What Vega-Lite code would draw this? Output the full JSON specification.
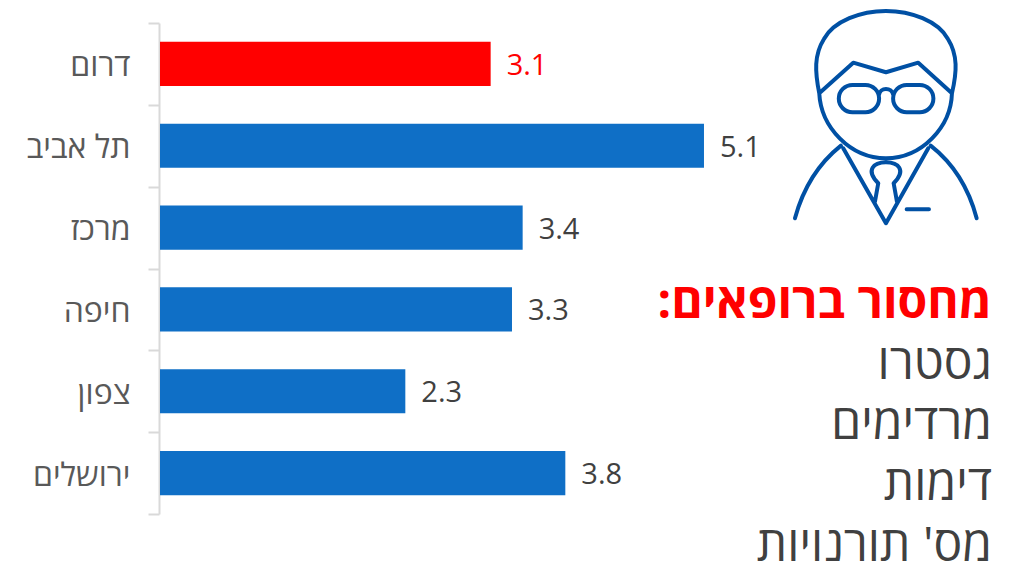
{
"$schema":"https://vega.github.io/schema/vega-lite/v6.json",
"width":858,"height":491,
"padding":{"left":160,"top":23,"right":0,"bottom":50},
"autosize":"none",
"background":"white",
"config":{"view":{"stroke":null},"font":"Open Sans"},
"datasets":{
"regions":[
{"region":"דרום","doctors":3.1},
{"region":"תל אביב","doctors":5.1},
{"region":"מרכז","doctors":3.4},
{"region":"חיפה","doctors":3.3},
{"region":"צפון","doctors":2.3},
{"region":"ירושלים","doctors":3.8}],
"shortage":[
{"line":0,"label":"מחסור ברופאים:\u200f","head":true},
{"line":1,"label":"גסטרו","head":false},
{"line":2,"label":"מרדימים","head":false},
{"line":3,"label":"דימות","head":false},
{"line":4,"label":"מס' תורנויות","head":false}]
},
"encoding":{"x":{"type":"quantitative","scale":{"domain":[0,8.044],"nice":false,"zero":false},"axis":null}},
"layer":[
{"data":{"name":"regions"},
"encoding":{
"y":{"field":"region","type":"nominal","sort":null,"title":null,
"scale":{"type":"band","paddingInner":0,"paddingOuter":0},
"axis":{"title":null,"offset":1,"tickBand":"extent","tickSize":11,"tickWidth":2,"tickColor":"#d9d9d9","domainColor":"#d9d9d9","domainWidth":2,"labelPadding":18,"labelFontSize":32,"labelColor":"#595959","labelFont":"Open Sans","labelLimit":200,"labelOffset":2}}
},
"layer":[
{"mark":{"type":"bar","height":{"band":0.54},"cornerRadius":0},
"encoding":{"x":{"field":"doctors","type":"quantitative"},
"color":{"condition":{"test":"datum.doctors === 3.1","value":"#ff0000"},"value":"#0f6fc6"}}},
{"mark":{"type":"text","align":"left","baseline":"middle","dx":16,"dy":2,"fontSize":29},
"encoding":{"x":{"field":"doctors","type":"quantitative"},
"text":{"field":"doctors","type":"quantitative","format":".1f"},
"color":{"condition":{"test":"datum.doctors === 3.1","value":"#ff0000"},"value":"#404040"}}}
]},
{"encoding":{"y":{"type":"quantitative","scale":{"domain":[3.48,-4.62],"nice":false,"zero":false},"axis":null}},
"layer":[
{"data":{"name":"shortage"},"transform":[{"filter":"!datum.head"}],
"mark":{"type":"text","align":"right","baseline":"middle","fontSize":48,"dy":1,"color":"#404040","clip":false},
"encoding":{"x":{"datum":7.80},
"y":{"field":"line","type":"quantitative"},
"text":{"field":"label"}}},
{"data":{"name":"shortage"},"transform":[{"filter":"datum.head"}],
"mark":{"type":"text","align":"right","baseline":"middle","fontSize":48,"fontWeight":"bold","dy":1,"color":"#ff0000","clip":false},
"encoding":{"x":{"datum":7.80},
"y":{"field":"line","type":"quantitative"},
"text":{"field":"label"}}},
{"data":{"values":[{"icon":"doctor"}]},
"mark":{"type":"point","filled":false,"opacity":1,"stroke":"#0050a4","strokeWidth":4,"strokeCap":"round","strokeJoin":"round","size":40000,"clip":false,
"shape":"M-.667 -.237C-.71 -.45 -.72 -.62 -.62 -.78C-.52 -.96 -.25 -1.06 0 -1.06C.25 -1.06 .52 -.96 .62 -.78C.72 -.62 .71 -.45 .66 -.237M-.667 -.237C-.65 .1 -.36 .413 0 .413C.36 .413 .65 .1 .66 -.237M-.667 -.237L-.327 -.543L0 -.447L.323 -.543L.66 -.237M-.335 -.32H-.205A.1365 .1365 0 0 1 -.205 -.047H-.335A.1365 .1365 0 0 1 -.335 -.32ZM.208 -.32H.338A.1365 .1365 0 0 1 .338 -.047H.208A.1365 .1365 0 0 1 .208 -.32ZM-.07 -.22C-.06 -.3 .06 -.3 .073 -.22M-.45 .287C-.68 .47 -.83 .72 -.91 1.013M.447 .287C.68 .47 .83 .72 .907 1.013M-.427 .313L0 1.063L.423 .313M-.077 .663C-.21 .53 -.12 .453 0 .453C.12 .453 .21 .53 .077 .663M-.077 .663L-.11 .847M.077 .663L.11 .847M.207 .923H.43"},
"encoding":{"x":{"datum":6.806},"y":{"datum":-3.07}}}
]}
],
"resolve":{"scale":{"y":"independent"}}
}
